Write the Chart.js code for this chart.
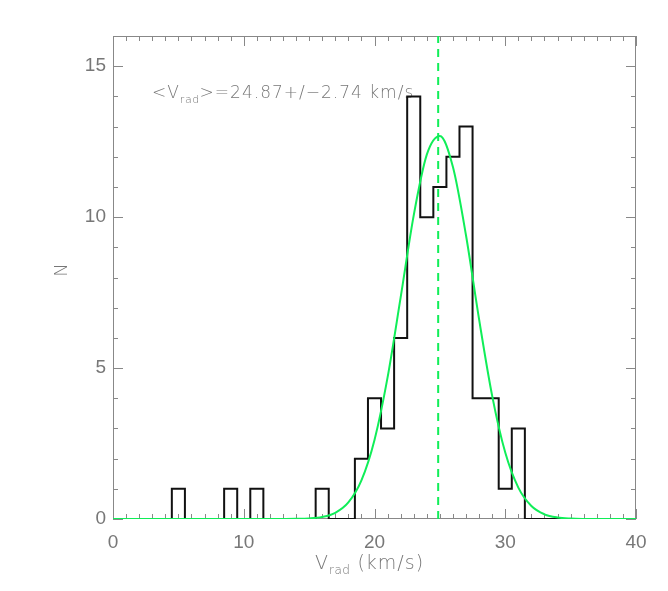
<!DOCTYPE html>
<html>
<head>
<meta charset="utf-8">
<script src="https://cdn.jsdelivr.net/npm/chart.js@4"></script>
<style>
  html, body { margin: 0; padding: 0; background: #fff; }
  #wrap { width: 668px; height: 591px; }
</style>
</head>
<body>
<div id="wrap"><canvas id="hist"></canvas></div>
<script>
// histogram bins (km/s, centred on integers) and counts
const binCenters = [0, 1, 2, 3, 4, 5, 6, 7, 8, 9, 10, 11, 12, 13, 14, 15, 16, 17, 18, 19, 20,
                    21, 22, 23, 24, 25, 26, 27, 28, 29, 30, 31, 32, 33, 34, 35, 36, 37, 38, 39, 40];
const counts = [0, 0, 0, 0, 0, 1, 0, 0, 0, 1, 0, 1, 0, 0, 0, 0, 1, 0, 0, 2, 4,
                3, 6, 14, 10, 11, 12, 13, 4, 4, 1, 3, 0, 0, 0, 0, 0, 0, 0, 0, 0];

// gaussian fit curve
const fitV = [0, 12, 13, 14, 15, 16, 17, 18, 19, 20, 21, 22, 23, 24, 25,
              26, 27, 28, 29, 30, 31, 32, 33, 34, 35, 36, 37, 40];
const fitN = [0, 0, 0.001, 0.005, 0.019, 0.067, 0.205, 0.548, 1.28, 2.62, 4.69, 7.34, 10.06, 12.07, 12.69,
              11.66, 9.39, 6.61, 4.08, 2.20, 1.04, 0.43, 0.156, 0.049, 0.014, 0.003, 0.001, 0];

const meanV = 24.87;
const sigmaV = 2.74;

const xTicks = [0, 10, 20, 30, 40];
const yTicks = [0, 5, 10, 15];

const GRAY = '#888';
const TEXT = '#777';
const GREEN = '#10ee58';

const toPts = (xs, ys) => xs.map((x, i) => ({ x: x, y: ys[i] }));

// text with a subscript part: parts = [[text, isSub], ...]
function drawParts(ctx, parts, x, y, size, spacing) {
    let cx = x;
    parts.forEach(p => {
        const s = p[1] ? Math.round(size * 0.62) : size;
        ctx.font = '300 ' + s + 'px "DejaVu Sans"';
        ctx.letterSpacing = (p[1] ? 0.5 : spacing) + 'px';
        const dy = p[1] ? size * 0.28 : 0;
        ctx.fillText(p[0], cx, y + dy);
        cx += ctx.measureText(p[0]).width;
    });
    ctx.letterSpacing = '0px';
}

const idlFrame = {
    id: 'idlFrame',
    beforeDatasetsDraw(chart) {
        const ctx = chart.ctx;
        const a = chart.chartArea;
        const xs = chart.scales.x, ys = chart.scales.y;
        ctx.save();
        ctx.strokeStyle = GRAY;
        ctx.lineWidth = 1;
        ctx.strokeRect(a.left + 0.5, a.top + 0.5, a.right - a.left - 1, a.bottom - a.top - 1);
        ctx.beginPath();
        for (let v = xs.min; v <= xs.max; v++) {
            const px = Math.round(xs.getPixelForValue(v)) + 0.5;
            const len = v % 10 === 0 ? 10 : 5;
            ctx.moveTo(px, a.bottom); ctx.lineTo(px, a.bottom - len);
            ctx.moveTo(px, a.top); ctx.lineTo(px, a.top + len);
        }
        for (let v = ys.min; v <= ys.max; v++) {
            const py = Math.round(ys.getPixelForValue(v)) + 0.5;
            const len = v % 5 === 0 ? 10 : 5;
            ctx.moveTo(a.left, py); ctx.lineTo(a.left + len, py);
            ctx.moveTo(a.right, py); ctx.lineTo(a.right - len, py);
        }
        ctx.stroke();

        ctx.fillStyle = TEXT;
        ctx.textBaseline = 'alphabetic';
        ctx.textAlign = 'left';
        // x title
        drawParts(ctx, [['V', false], ['rad', true], [' (km/s)', false]], 315, 569, 19, 1);
        // annotation
        drawParts(ctx, [['<V', false], ['rad', true], ['>=' + meanV.toFixed(2) + '+/\u2212' + sigmaV.toFixed(2) + ' km/s', false]], 152, 98, 17, 1);
        // y title
        ctx.translate(67, 270);
        ctx.rotate(-Math.PI / 2);
        ctx.textAlign = 'center';
        ctx.font = '300 18px "DejaVu Sans"';
        ctx.fillText('N', 0, 0);
        ctx.restore();
    }
};

new Chart(document.getElementById('hist').getContext('2d'), {
    type: 'scatter',
    data: {
        datasets: [{
            label: 'mean',
            data: [{ x: meanV, y: 0 }, { x: meanV, y: 16 }],
            showLine: true,
            borderColor: GREEN,
            borderWidth: 2,
            borderDash: [8, 6],
            pointRadius: 0
        }, {
            label: 'fit',
            data: toPts(fitV, fitN),
            showLine: true,
            borderColor: GREEN,
            borderWidth: 2,
            cubicInterpolationMode: 'monotone',
            pointRadius: 0
        }, {
            label: 'hist',
            data: toPts(binCenters, counts),
            showLine: true,
            stepped: 'middle',
            borderColor: '#111',
            borderWidth: 2,
            pointRadius: 0
        }]
    },
    options: {
        responsive: true,
        maintainAspectRatio: false,
        animation: false,
        layout: { padding: { top: 36, right: 32, left: 0, bottom: 0 } },
        plugins: { legend: { display: false }, tooltip: { enabled: false } },
        scales: {
            x: {
                type: 'linear', min: 0, max: 40,
                afterBuildTicks: s => { s.ticks = xTicks.map(v => ({ value: v })); },
                afterFit: s => { s.height = 72; },
                grid: { display: false, drawTicks: false },
                border: { display: false },
                ticks: { color: TEXT, padding: 12, font: { family: '"Liberation Sans"', size: 19 } }
            },
            y: {
                min: 0, max: 16,
                afterBuildTicks: s => { s.ticks = yTicks.map(v => ({ value: v })); },
                afterFit: s => { s.width = 113; },
                grid: { display: false, drawTicks: false },
                border: { display: false },
                ticks: { color: TEXT, padding: 7, font: { family: '"Liberation Sans"', size: 19 } }
            }
        }
    },
    plugins: [idlFrame]
});
</script>
</body>
</html>
